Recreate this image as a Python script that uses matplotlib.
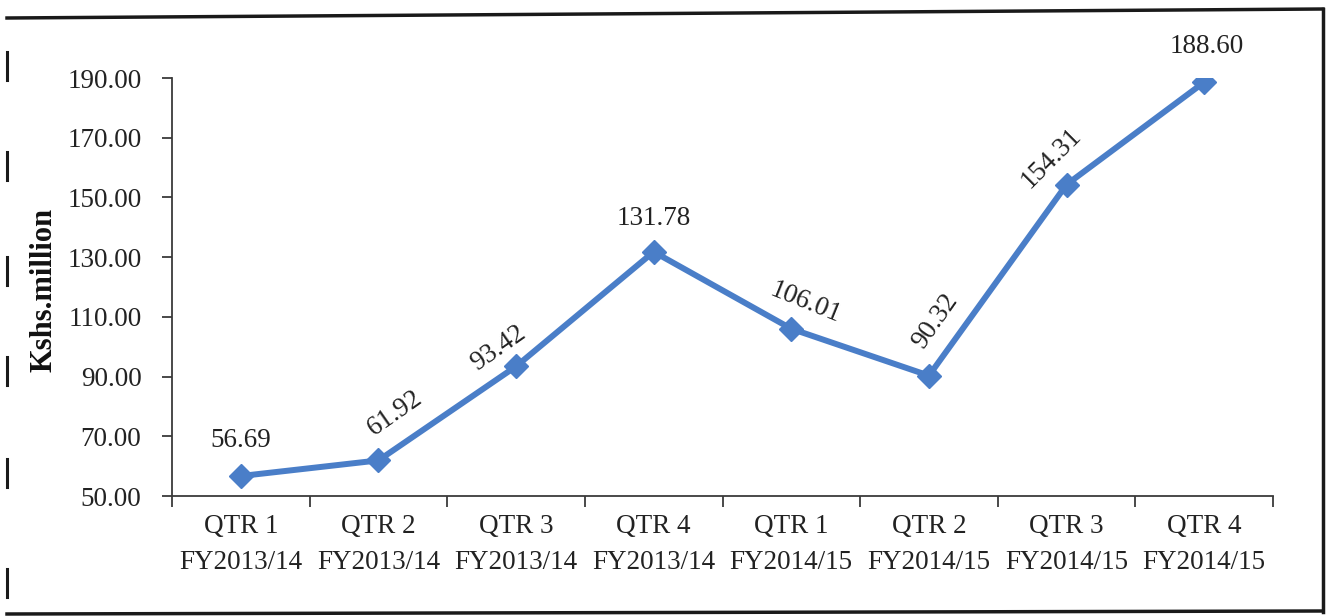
import matplotlib

matplotlib.use("Agg")

import matplotlib.pyplot as plt
from matplotlib.lines import Line2D
from matplotlib.ticker import FixedLocator

plt.rcParams["font.family"] = ["Liberation Serif", "DejaVu Serif"]

quarters = [
    "QTR 1\nFY2013/14", "QTR 2\nFY2013/14", "QTR 3\nFY2013/14", "QTR 4\nFY2013/14",
    "QTR 1\nFY2014/15", "QTR 2\nFY2014/15", "QTR 3\nFY2014/15", "QTR 4\nFY2014/15",
]
revenue = [56.69, 61.92, 93.42, 131.78, 106.01, 90.32, 154.31, 188.60]
y_ticks = [50, 70, 90, 110, 130, 150, 170, 190]

# label placement (pixel offset from point, rotation)
label_offsets = [(0, 36), (17, 47), (-18, 18), (0, 33), (14, 26), (6, 54), (-15, 26), (3, 36)]
label_rotation = [0, 35, 35, 0, -22, 55, 45, 0]

W, H = 1327, 616
fig = plt.figure(figsize=(W / 100, H / 100), dpi=100)
ax = fig.add_axes([172 / W, 1 - 496 / H, (1273 - 172) / W, (496 - 78) / H])

line_color = "#4A7EC8"
text_color = "#222222"
axis_color = "#3a3a3a"
fs = 19.5

x = list(range(len(revenue)))
ax.plot(x, revenue, color=line_color, lw=4.3, marker="D", ms=12.5,
        markerfacecolor=line_color, markeredgecolor=line_color, zorder=3)

for xi, v, (dx, dy), rot in zip(x, revenue, label_offsets, label_rotation):
    ax.annotate(f"{v:.2f}", (xi, v), xytext=(dx, dy), textcoords="offset pixels",
                ha="center", va="center", rotation=rot, rotation_mode="anchor",
                fontsize=fs, color=text_color)

ax.set_xlim(-0.5, len(revenue) - 0.5)
ax.set_ylim(50, 190)
ax.set_yticks(y_ticks)
ax.set_yticklabels([f"{t:.2f}" for t in y_ticks])
ax.set_xticks(x)
ax.set_xticklabels(quarters, linespacing=1.55)
ax.xaxis.set_minor_locator(FixedLocator([i - 0.5 for i in range(len(revenue) + 1)]))

ax.tick_params(axis="x", which="major", length=0, pad=13, labelsize=fs, colors=text_color)
ax.tick_params(axis="x", which="minor", length=8, width=1.3, color=axis_color)
ax.tick_params(axis="y", length=7, width=1.3, color=axis_color, pad=15,
               labelsize=fs, labelcolor=text_color)

for side in ["top", "right"]:
    ax.spines[side].set_visible(False)
for side in ["left", "bottom"]:
    ax.spines[side].set_color(axis_color)
    ax.spines[side].set_linewidth(1.3)

fig.text(44 / W, 1 - 290 / H, "Kshs.million", rotation=90, ha="center", va="center",
         fontsize=22, fontweight="bold", color="#111111")


def px_line(x0, y0, x1, y1, lw=2.5, color="#1a1a1a"):
    fig.add_artist(Line2D([x0 / W, x1 / W], [1 - y0 / H, 1 - y1 / H],
                          transform=fig.transFigure, color=color, lw=lw))


# outer frame
px_line(7, 18, 1323, 9)
px_line(1323, 9, 1323, 612)
px_line(7, 614, 1323, 611)
for y0 in [52, 152, 257, 357, 459, 569]:
    px_line(7, y0, 7, y0 + 28, lw=2.2)

fig.savefig("out.png", dpi=100)
